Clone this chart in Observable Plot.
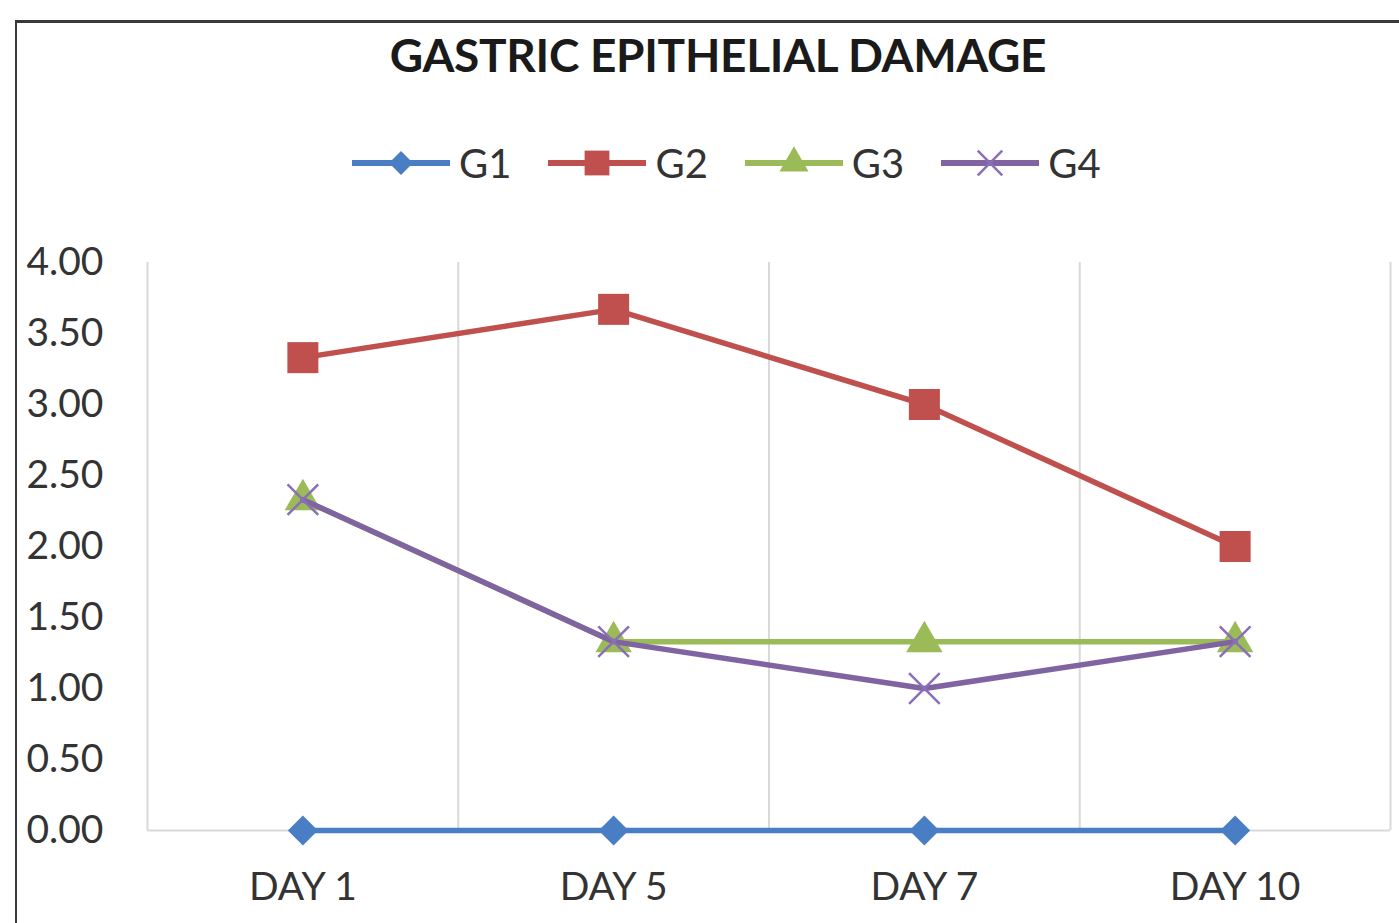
<!DOCTYPE html>
<html>
<head>
<meta charset="utf-8">
<script src="https://cdn.jsdelivr.net/npm/d3@7"></script>
<script src="https://cdn.jsdelivr.net/npm/@observablehq/plot@0.6"></script>
<style>
  html, body { margin: 0; padding: 0; background: #fff; }
  body { width: 1399px; height: 923px; overflow: hidden; position: relative; font-family: Lato, "Open Sans", sans-serif; }
  #frame { position: absolute; left: 15px; top: 20px; width: 1440px; height: 960px; border-top: 3px solid #3a3a3a; border-left: 2px solid #3a3a3a; box-sizing: border-box; }
  #title { position: absolute; left: 0; top: 32px; width: 1436px; text-align: center; font-size: 46px; line-height: 1; font-weight: 700; color: #1a1a1a; white-space: nowrap; letter-spacing: -0.3px; }
  #legend { position: absolute; left: 352px; top: 143px; height: 40px; display: flex; align-items: center; font-size: 40px; color: #333; }
  .item { display: flex; align-items: center; margin-right: 37px; }
  .item span { margin-left: 9px; line-height: 1; }
  #chart { position: absolute; left: 0; top: 222px; }
</style>
</head>
<body>
<div id="frame"></div>
<div id="title">GASTRIC EPITHELIAL DAMAGE</div>
<div id="legend"></div>
<div id="chart"></div>
<script>
// ---- data ----
const days = ["DAY 1", "DAY 5", "DAY 7", "DAY 10"];
const groups = ["G1", "G2", "G3", "G4"];
const g1 = [0.00, 0.00, 0.00, 0.00];
const g2 = [3.33, 3.67, 3.00, 2.00];
const g3 = [2.33, 1.33, 1.33, 1.33];
const g4 = [2.33, 1.33, 1.00, 1.33];
const yTicks = [0, 0.5, 1, 1.5, 2, 2.5, 3, 3.5, 4];

const colors = ["#4a7ec4", "#c0504d", "#9bbb59", "#8064a2"];
const symbols = ["diamond2", "square", "triangle", "times"];
const radii = [13.5, 17.5, 13.5, 14];

const series = [g1, g2, g3, g4];
const rows = [];
groups.forEach((g, gi) => series[gi].forEach((v, i) => rows.push({g, i, day: days[i], v})));

// category boundaries for the vertical grid (between categories)
const bounds = d3.range(days.length + 1).map(i => i - 0.5);

const marks = [
  Plot.ruleX(bounds, {x: d => d, y1: 0, y2: 4, stroke: "#d9d9d9", strokeWidth: 2}),
  Plot.ruleY([0], {stroke: "#d9d9d9", strokeWidth: 2}),
  Plot.axisX({ticks: d3.range(days.length), tickFormat: i => days[i], tickSize: 0, tickPadding: 42, label: null}),
  Plot.axisY({ticks: yTicks, tickFormat: d3.format(".2f"), tickSize: 0, tickPadding: 44, label: null})
];
groups.forEach((g, gi) => {
  const data = rows.filter(r => r.g === g);
  marks.push(Plot.line(data, {x: "i", y: "v", stroke: colors[gi], strokeWidth: 5.5}));
  if (symbols[gi] === "times") {
    marks.push(Plot.dot(data, {x: "i", y: "v", symbol: "times", r: radii[gi], stroke: "#8a6fb8", strokeWidth: 2.5, fill: "none"}));
  } else {
    marks.push(Plot.dot(data, {x: "i", y: "v", symbol: symbols[gi], r: radii[gi], fill: colors[gi], stroke: "none"}));
  }
});

const chart = Plot.plot({
  width: 1399,
  height: 700,
  marginLeft: 147,
  marginRight: 9,
  marginTop: 40,
  marginBottom: 92,
  x: {type: "linear", domain: [-0.5, days.length - 0.5]},
  y: {domain: [0, 4]},
  style: {fontSize: "39px", fontFamily: "Lato, 'Open Sans', sans-serif", color: "#333", background: "transparent", overflow: "visible"},
  marks
});
document.getElementById("chart").appendChild(chart);

// ---- legend ----
const legend = document.getElementById("legend");
groups.forEach((g, gi) => {
  const item = document.createElement("div");
  item.className = "item";
  const svg = d3.create("svg").attr("width", 98).attr("height", 40);
  svg.append("line").attr("x1", 0).attr("x2", 98).attr("y1", 20).attr("y2", 20)
    .attr("stroke", colors[gi]).attr("stroke-width", 6);
  const sym = {diamond2: d3.symbolDiamond2, square: d3.symbolSquare, triangle: d3.symbolTriangle, times: d3.symbolTimes}[symbols[gi]];
  const size = Math.PI * Math.pow(radii[gi] * 0.8, 2);
  const p = svg.append("path").attr("transform", "translate(49,20)").attr("d", d3.symbol(sym, size)());
  if (symbols[gi] === "times") p.attr("fill", "none").attr("stroke", "#8a6fb8").attr("stroke-width", 2.5);
  else p.attr("fill", colors[gi]);
  item.appendChild(svg.node());
  const s = document.createElement("span");
  s.textContent = g;
  item.appendChild(s);
  legend.appendChild(item);
});
</script>
</body>
</html>
